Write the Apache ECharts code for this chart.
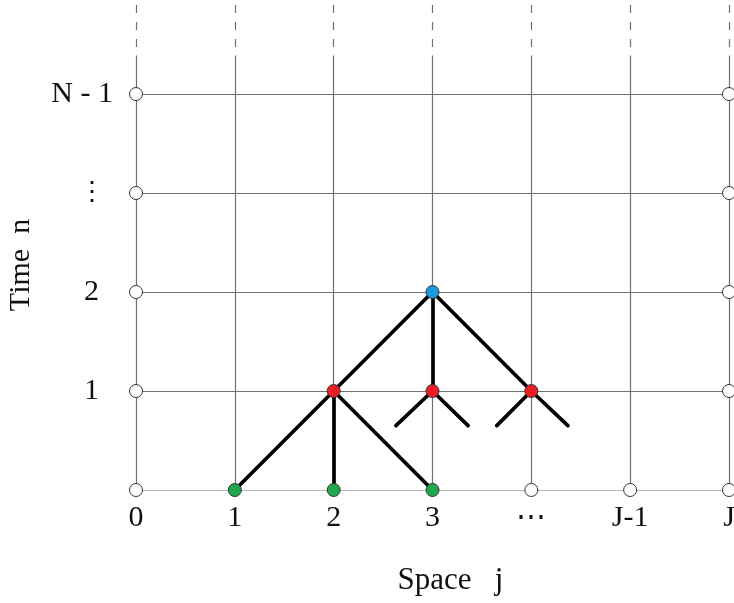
<!DOCTYPE html>
<html>
<head>
<meta charset="utf-8">
<script src="https://cdn.jsdelivr.net/npm/echarts@6/dist/echarts.min.js"></script>
<style>
  html, body { margin: 0; padding: 0; background: #fff; }
  #main { width: 734px; height: 603px; }
</style>
</head>
<body>
<div id="main"></div>
<script>
// tick labels
var xLabels = ['0', '1', '2', '3', '⋯', 'J-1', 'J'];
var yLabels = ['', '1', '2', '⋮', 'N - 1'];

// grid nodes
var openNodes = [
    [0, 0], [0, 1], [0, 2], [0, 3], [0, 4],
    [6, 0], [6, 1], [6, 2], [6, 3], [6, 4],
    [4, 0], [5, 0]
];
var greenNodes = [[1, 0], [2, 0], [3, 0]];
var redNodes = [[2, 1], [3, 1], [4, 1]];
var blueNodes = [[3, 2]];

// stencil edges (from -> to)
var treeEdges = [
    [[3, 2], [2, 1]], [[3, 2], [3, 1]], [[3, 2], [4, 1]],
    [[2, 1], [1, 0]], [[2, 1], [2, 0]], [[2, 1], [3, 0]],
    [[3, 1], [2.63, 0.65]], [[3, 1], [3.36, 0.65]],
    [[4, 1], [3.65, 0.65]], [[4, 1], [4.37, 0.65]]
];

var serif = "'Liberation Serif', 'DejaVu Serif', serif";
var gridColor = '#707070';

function buildGridLines() {
    var rows = [], cols = [], dashes = [];
    var xMax = xLabels.length - 1;
    yLabels.forEach(function (l, j) {
        rows.push({ coords: [[0, j], [xMax, j]] });
    });
    xLabels.forEach(function (l, i) {
        cols.push({ coords: [[i, 0], [i, 4.39]] });
        dashes.push({ coords: [[i, 4.9], [i, 4.44]] });
    });
    return { rows: rows, cols: cols, dashes: dashes };
}

var g = buildGridLines();

function linesSeries(data, style) {
    return {
        type: 'lines',
        coordinateSystem: 'cartesian2d',
        polyline: false,
        silent: true,
        data: data,
        lineStyle: style,
        z: style.z || 2
    };
}

function nodeSeries(data, fill) {
    return {
        type: 'scatter',
        data: data,
        symbol: 'circle',
        symbolSize: 13,
        silent: true,
        itemStyle: { color: fill, borderColor: '#333', borderWidth: 1, opacity: 1 },
        z: 10
    };
}

var chart = echarts.init(document.getElementById('main'));
var option = {
    animation: false,
    backgroundColor: '#fff',
    grid: { left: 136, right: 5, top: 0, bottom: 113, outerBoundsMode: 'none', containLabel: false },
    xAxis: {
        type: 'value',
        min: 0,
        max: 6,
        interval: 1,
        axisLine: { show: false },
        axisTick: { show: false },
        splitLine: { show: false },
        axisLabel: {
            margin: 13,
            fontFamily: serif,
            fontSize: 30,
            color: '#111',
            formatter: function (v) { return xLabels[v] !== undefined ? xLabels[v] : ''; }
        },
        name: 'Space   j',
        nameLocation: 'middle',
        nameGap: 75,
        nameTextStyle: { fontFamily: serif, fontSize: 31, color: '#111', padding: [0, 0, 0, 36] }
    },
    yAxis: {
        type: 'value',
        min: 0,
        max: 4.95,
        interval: 1,
        axisLine: { show: false },
        axisTick: { show: false },
        splitLine: { show: false },
        axisLabel: {
            margin: 23,
            showMaxLabel: false,
            formatter: function (v) {
                var l = yLabels[v];
                if (l === undefined || l === '') return '';
                if (v === 4) return '{w|' + l + '}';
                if (v === 3) return '{d|' + l + '}';
                return '{n|' + l + '}';
            },
            rich: {
                w: { fontFamily: serif, fontSize: 30, color: '#111' },
                d: { fontFamily: serif, fontSize: 26, color: '#111', padding: [0, 8, 0, 0] },
                n: { fontFamily: serif, fontSize: 30, color: '#111', padding: [0, 14, 0, 0] }
            }
        },
        name: 'Time  n',
        nameLocation: 'middle',
        nameRotate: 90,
        nameGap: 100,
        nameTextStyle: { fontFamily: serif, fontSize: 30, color: '#111', padding: [0, 40, 0, 0] }
    },
    series: [
        linesSeries(g.rows, { color: gridColor, width: 1.2, opacity: 1 }),
        linesSeries(g.cols, { color: gridColor, width: 1.2, opacity: 1 }),
        linesSeries(g.dashes, { color: gridColor, width: 1.2, opacity: 1, type: [8, 9] }),
        linesSeries(treeEdges.map(function (e) { return { coords: e }; }),
            { color: '#000', width: 3.7, opacity: 1, cap: 'round', z: 5 }),
        nodeSeries(openNodes, '#fff'),
        nodeSeries(greenNodes, '#1fa84b'),
        nodeSeries(redNodes, '#ec1c24'),
        nodeSeries(blueNodes, '#1b9ae0')
    ]
};
chart.setOption(option);
</script>
</body>
</html>
